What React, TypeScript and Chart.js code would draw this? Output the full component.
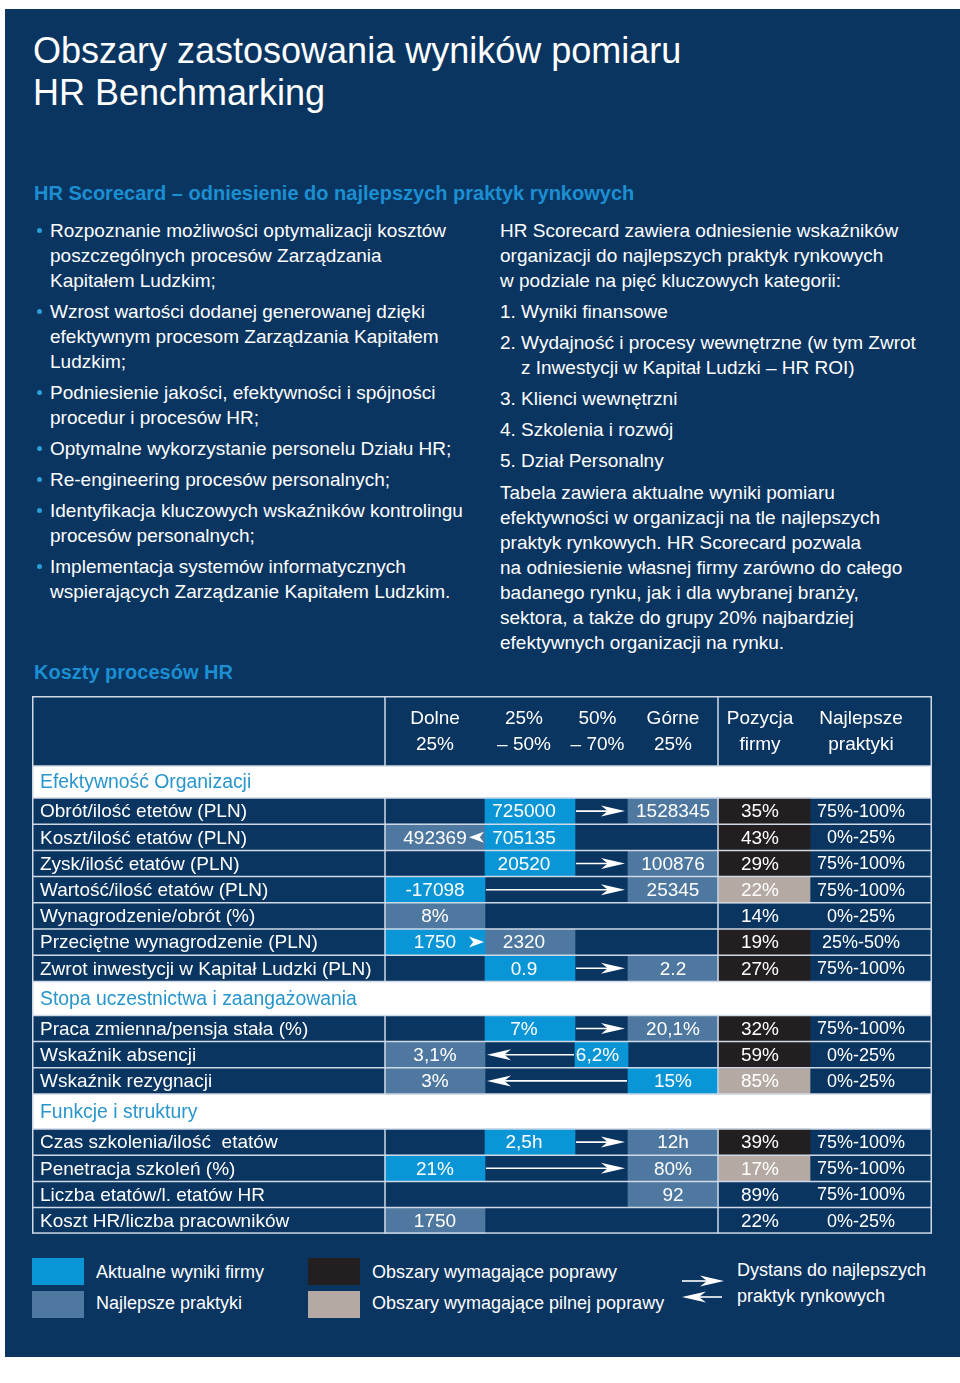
import React, { useEffect, useRef } from 'react';
import { Chart, registerables } from 'chart.js';

Chart.register(...registerables);

// ---------------- DATA ----------------
const COLUMN_HEADERS: string[][] = [
  ['Dolne', '25%'],
  ['25%', '– 50%'],
  ['50%', '– 70%'],
  ['Górne', '25%'],
  ['Pozycja', 'firmy'],
  ['Najlepsze', 'praktyki'],
];

const SECTION_TITLES = [
  'Efektywność Organizacji',
  'Stopa uczestnictwa i zaangażowania',
  'Funkcje i struktury',
];

const ROW_LABELS = [
  'Obrót/ilość etetów (PLN)',
  'Koszt/ilość etatów (PLN)',
  'Zysk/ilość etatów (PLN)',
  'Wartość/ilość etatów (PLN)',
  'Wynagrodzenie/obrót (%)',
  'Przeciętne wynagrodzenie (PLN)',
  'Zwrot inwestycji w Kapitał Ludzki (PLN)',
  'Praca zmienna/pensja stała (%)',
  'Wskaźnik absencji',
  'Wskaźnik rezygnacji',
  'Czas szkolenia/ilość  etatów',
  'Penetracja szkoleń (%)',
  'Liczba etatów/l. etatów HR',
  'Koszt HR/liczba pracowników',
];

const ROW_SECTION = [0, 0, 0, 0, 0, 0, 0, 1, 1, 1, 2, 2, 2, 2];

// column index: 1 = Dolne 25%, 2 = 25%-50%, 3 = 50%-70%, 4 = Górne 25%
const CURRENT_COL: (number | null)[] = [2, 2, 2, 1, null, 1, 2, 2, 3, 4, 2, 1, null, null];
const CURRENT_VALUE: (string | null)[] = ['725000', '705135', '20520', '-17098', null, '1750', '0.9', '7%', '6,2%', '15%', '2,5h', '21%', null, null];

const BEST_COL: number[] = [4, 1, 4, 4, 1, 2, 4, 4, 1, 1, 4, 4, 4, 1];
const BEST_VALUE: string[] = ['1528345', '492369', '100876', '25345', '8%', '2320', '2.2', '20,1%', '3,1%', '3%', '12h', '80%', '92', '1750'];

const POSITION: string[] = ['35%', '43%', '29%', '22%', '14%', '19%', '27%', '32%', '59%', '85%', '39%', '17%', '89%', '22%'];
// 'improve' = Obszary wymagające poprawy, 'urgent' = Obszary wymagające pilnej poprawy
const POSITION_STATUS: string[] = ['improve', 'improve', 'improve', 'urgent', 'ok', 'improve', 'improve', 'improve', 'improve', 'urgent', 'improve', 'urgent', 'ok', 'ok'];

const BEST_PRACTICE: string[] = ['75%-100%', '0%-25%', '75%-100%', '75%-100%', '0%-25%', '25%-50%', '75%-100%', '75%-100%', '0%-25%', '0%-25%', '75%-100%', '75%-100%', '75%-100%', '0%-25%'];

const LEGEND_LABELS = ['Aktualne wyniki firmy', 'Najlepsze praktyki', 'Obszary wymagające poprawy', 'Obszary wymagające pilnej poprawy'];

// ---------------- STYLE / LAYOUT ----------------
const FONT = '"Liberation Sans", Arial, Helvetica, sans-serif';
const NAVY = '#0a3561';
const C_CURRENT = '#0a96d6';
const C_BEST = '#4e78a0';
const C_IMPROVE = '#231f20';
const C_URGENT = '#b5a9a3';
const C_SECTION = '#2896cd';
const C_SUB = '#1b8fd2';
const C_LINE = '#cfd9e6';

const TABLE_W = 900;
const COL_EDGES = [0, 353, 453, 543, 596, 686, 778, 900];
const COL_TEXT_SHIFT = [0, 0, -6, -4, 0, -4, -10];
const HEADER_H = 70;
const SECTION_H = [32, 34, 35];
const ROW_H = 26.2;

type Item = { kind: 'header' | 'section' | 'data'; top: number; h: number; index: number };
const LAYOUT: Item[] = [];
let acc = 0;
LAYOUT.push({ kind: 'header', top: 0, h: HEADER_H, index: 0 });
acc = HEADER_H;
ROW_LABELS.forEach((_, i) => {
  const s = ROW_SECTION[i];
  if (i === 0 || ROW_SECTION[i - 1] !== s) {
    LAYOUT.push({ kind: 'section', top: acc, h: SECTION_H[s], index: s });
    acc += SECTION_H[s];
  }
  LAYOUT.push({ kind: 'data', top: acc, h: ROW_H, index: i });
  acc += ROW_H;
});
const TOTAL_H = acc;
const CANVAS_H = Math.ceil(TOTAL_H);
const rowItem = (i: number) => LAYOUT.find((it) => it.kind === 'data' && it.index === i)!;
const rowCenter = (i: number) => {
  const it = rowItem(i);
  return it.top + it.h / 2;
};

function cellBars(cols: (number | null)[], filter?: (i: number) => boolean) {
  const out: { x: number[]; y: number }[] = [];
  cols.forEach((c, i) => {
    if (c === null || c === undefined) return;
    if (filter && !filter(i)) return;
    out.push({ x: [COL_EDGES[c], COL_EDGES[c + 1]], y: rowCenter(i) });
  });
  return out;
}

function drawArrowHead(ctx: CanvasRenderingContext2D, tipX: number, y: number, dir: number, len: number, half: number) {
  ctx.beginPath();
  ctx.moveTo(tipX, y);
  ctx.lineTo(tipX - dir * len, y - half);
  ctx.lineTo(tipX - dir * len * 0.72, y);
  ctx.lineTo(tipX - dir * len, y + half);
  ctx.closePath();
  ctx.fill();
}

const tablePlugin = {
  id: 'tableDecor',
  beforeDatasetsDraw(chart: any) {
    const { ctx, scales } = chart;
    const x = scales.x;
    const y = scales.y;
    ctx.save();
    ctx.fillStyle = '#ffffff';
    LAYOUT.filter((it) => it.kind === 'section').forEach((it) => {
      const y0 = y.getPixelForValue(it.top);
      const y1 = y.getPixelForValue(it.top + it.h);
      ctx.fillRect(x.getPixelForValue(0), y0, x.getPixelForValue(TABLE_W) - x.getPixelForValue(0), y1 - y0);
    });
    ctx.restore();
  },
  afterDatasetsDraw(chart: any) {
    const { ctx, scales } = chart;
    const x = scales.x;
    const y = scales.y;
    const X = (v: number) => x.getPixelForValue(v);
    const Y = (v: number) => y.getPixelForValue(v);
    ctx.save();

    // grid lines
    ctx.strokeStyle = C_LINE;
    ctx.lineWidth = 1.5;
    for (let k = 1; k < LAYOUT.length; k++) {
      const yy = Y(LAYOUT[k].top);
      ctx.beginPath();
      ctx.moveTo(X(0), yy);
      ctx.lineTo(X(TABLE_W), yy);
      ctx.stroke();
    }
    LAYOUT.forEach((it) => {
      if (it.kind === 'section') return;
      [COL_EDGES[1], COL_EDGES[5]].forEach((e) => {
        ctx.beginPath();
        ctx.moveTo(X(e), Y(it.top));
        ctx.lineTo(X(e), Y(it.top + it.h));
        ctx.stroke();
      });
    });
    ctx.strokeRect(X(0) + 0.75, Y(0) + 0.75, X(TABLE_W) - X(0) - 1.5, Y(TOTAL_H) - Y(0) - 1.5);

    // arrows
    ctx.fillStyle = '#ffffff';
    ctx.strokeStyle = '#ffffff';
    ctx.lineWidth = 1.6;
    ROW_LABELS.forEach((_, i) => {
      const c = CURRENT_COL[i];
      const b = BEST_COL[i];
      if (c === null || c === b) return;
      const yy = Y(rowCenter(i));
      const dir = b > c ? 1 : -1;
      if (Math.abs(b - c) === 1) {
        const boundary = COL_EDGES[Math.max(b, c)];
        const tip = dir > 0 ? boundary - 1 : boundary - 16;
        drawArrowHead(ctx, X(tip), yy, dir, 15, 5.5);
      } else {
        const start = dir > 0 ? COL_EDGES[c + 1] + 1 : COL_EDGES[c] - 1;
        const tip = dir > 0 ? COL_EDGES[b] - 3 : COL_EDGES[b + 1] + 2;
        ctx.beginPath();
        ctx.moveTo(X(start), yy);
        ctx.lineTo(X(tip) - dir * 12, yy);
        ctx.stroke();
        drawArrowHead(ctx, X(tip), yy, dir, 24, 5.5);
      }
    });

    // texts
    ctx.textBaseline = 'middle';
    ctx.font = `19px ${FONT}`;
    ctx.fillStyle = '#ffffff';
    const center = (col: number) => X((COL_EDGES[col] + COL_EDGES[col + 1]) / 2 + COL_TEXT_SHIFT[col]);
    // header
    const hc = HEADER_H / 2;
    COLUMN_HEADERS.forEach((lines, k) => {
      const cx = center(k + 1);
      ctx.textAlign = 'center';
      ctx.fillText(lines[0], cx, Y(hc - 13) + 1);
      ctx.fillText(lines[1], cx, Y(hc + 13) + 1);
    });
    // sections
    ctx.font = `19.4px ${FONT}`;
    LAYOUT.filter((it) => it.kind === 'section').forEach((it) => {
      ctx.fillStyle = C_SECTION;
      ctx.textAlign = 'left';
      ctx.fillText(SECTION_TITLES[it.index], X(8), Y(it.top + it.h / 2) + 1);
    });
    ctx.fillStyle = '#ffffff';
    ROW_LABELS.forEach((label, i) => {
      const yy = Y(rowCenter(i)) + 1;
      ctx.font = `19px ${FONT}`;
      ctx.textAlign = 'left';
      ctx.fillText(label, X(8), yy);
      ctx.textAlign = 'center';
      const c = CURRENT_COL[i];
      if (c !== null && CURRENT_VALUE[i]) ctx.fillText(CURRENT_VALUE[i] as string, center(c), yy);
      ctx.fillText(BEST_VALUE[i], center(BEST_COL[i]), yy);
      ctx.fillText(POSITION[i], center(5), yy);
      ctx.font = `18px ${FONT}`;
      ctx.fillText(BEST_PRACTICE[i], center(6), yy);
    });
    ctx.restore();
  },
};

function TableChart() {
  const ref = useRef<HTMLCanvasElement | null>(null);
  useEffect(() => {
    if (!ref.current) return;
    const positionCols = POSITION.map(() => 5);
    const chart = new Chart(ref.current, {
      type: 'bar',
      data: {
        datasets: [
          { label: LEGEND_LABELS[0], data: cellBars(CURRENT_COL), backgroundColor: C_CURRENT },
          { label: LEGEND_LABELS[1], data: cellBars(BEST_COL), backgroundColor: C_BEST },
          { label: LEGEND_LABELS[2], data: cellBars(positionCols, (i) => POSITION_STATUS[i] === 'improve'), backgroundColor: C_IMPROVE },
          { label: LEGEND_LABELS[3], data: cellBars(positionCols, (i) => POSITION_STATUS[i] === 'urgent'), backgroundColor: C_URGENT },
        ] as any,
      },
      options: {
        indexAxis: 'y',
        responsive: false,
        maintainAspectRatio: false,
        animation: false,
        layout: { padding: 0 },
        datasets: { bar: { grouped: false, barThickness: ROW_H, borderWidth: 0, borderSkipped: false } } as any,
        scales: {
          x: { type: 'linear', min: 0, max: TABLE_W, display: false, offset: false, grid: { offset: false } },
          y: { type: 'linear', min: 0, max: CANVAS_H, reverse: true, display: false, offset: false, grid: { offset: false } },
        },
        plugins: { legend: { display: false }, tooltip: { enabled: false } },
      } as any,
      plugins: [tablePlugin],
    });
    return () => chart.destroy();
  }, []);
  return (
    <canvas
      ref={ref}
      width={TABLE_W}
      height={CANVAS_H}
      style={{ position: 'absolute', left: 32, top: 696, width: TABLE_W, height: CANVAS_H }}
    />
  );
}

const LEFT_BULLETS: string[][] = [
  ['Rozpoznanie możliwości optymalizacji kosztów', 'poszczególnych procesów Zarządzania', 'Kapitałem Ludzkim;'],
  ['Wzrost wartości dodanej generowanej dzięki', 'efektywnym procesom Zarządzania Kapitałem', 'Ludzkim;'],
  ['Podniesienie jakości, efektywności i spójności', 'procedur i procesów HR;'],
  ['Optymalne wykorzystanie personelu Działu HR;'],
  ['Re-engineering procesów personalnych;'],
  ['Identyfikacja kluczowych wskaźników kontrolingu', 'procesów personalnych;'],
  ['Implementacja systemów informatycznych', 'wspierających Zarządzanie Kapitałem Ludzkim.'],
];

const RIGHT_PARAS: { lines: string[]; indent?: boolean }[] = [
  { lines: ['HR Scorecard zawiera odniesienie wskaźników', 'organizacji do najlepszych praktyk rynkowych', 'w podziale na pięć kluczowych kategorii:'] },
  { lines: ['1. Wyniki finansowe'] },
  { lines: ['2. Wydajność i procesy wewnętrzne (w tym Zwrot', 'z Inwestycji w Kapitał Ludzki – HR ROI)'], indent: true },
  { lines: ['3. Klienci wewnętrzni'] },
  { lines: ['4. Szkolenia i rozwój'] },
  { lines: ['5. Dział Personalny'] },
  {
    lines: [
      'Tabela zawiera aktualne wyniki pomiaru',
      'efektywności w organizacji na tle najlepszych',
      'praktyk rynkowych. HR Scorecard pozwala',
      'na odniesienie własnej firmy zarówno do całego',
      'badanego rynku, jak i dla wybranej branży,',
      'sektora, a także do grupy 20% najbardziej',
      'efektywnych organizacji na rynku.',
    ],
  },
];

const bodyText: React.CSSProperties = { fontSize: 19, lineHeight: '25px', color: '#ffffff', whiteSpace: 'nowrap' };

export default function App() {
  return (
    <div style={{ position: 'absolute', left: 0, top: 0, width: 960, height: 1383, background: '#ffffff', fontFamily: FONT, overflow: 'hidden' }}>
      <div style={{ position: 'absolute', left: 5, top: 9, width: 955, height: 1348, background: NAVY }} />
      <div style={{ position: 'absolute', left: 33, top: 30, fontSize: 36, lineHeight: '42px', color: '#ffffff', whiteSpace: 'nowrap' }}>
        Obszary zastosowania wyników pomiaru
        <br />
        HR Benchmarking
      </div>
      <div style={{ position: 'absolute', left: 34, top: 181, fontSize: 20, lineHeight: '24px', fontWeight: 'bold', color: C_SUB, whiteSpace: 'nowrap' }}>
        HR Scorecard – odniesienie do najlepszych praktyk rynkowych
      </div>
      <div style={{ position: 'absolute', left: 50, top: 218 }}>
        {LEFT_BULLETS.map((lines, k) => (
          <div key={k} style={{ ...bodyText, position: 'relative', marginTop: k === 0 ? 0 : 6 }}>
            <span style={{ position: 'absolute', left: -13, top: 10, width: 5, height: 5, borderRadius: 3, background: '#2a9fd8' }} />
            {lines.map((l, j) => (
              <div key={j}>{l}</div>
            ))}
          </div>
        ))}
      </div>
      <div style={{ position: 'absolute', left: 500, top: 218 }}>
        {RIGHT_PARAS.map((p, k) => (
          <div key={k} style={{ ...bodyText, marginTop: k === 0 ? 0 : k === 6 ? 7 : 6 }}>
            {p.lines.map((l, j) => (
              <div key={j} style={{ paddingLeft: p.indent && j > 0 ? 21 : 0 }}>{l}</div>
            ))}
          </div>
        ))}
      </div>
      <div style={{ position: 'absolute', left: 34, top: 660, fontSize: 20, lineHeight: '24px', fontWeight: 'bold', color: C_SUB, whiteSpace: 'nowrap' }}>
        Koszty procesów HR
      </div>

      <TableChart />

      {/* legend */}
      <div style={{ position: 'absolute', left: 32, top: 1258, width: 52, height: 27, background: C_CURRENT }} />
      <div style={{ position: 'absolute', left: 32, top: 1291, width: 52, height: 27, background: C_BEST }} />
      <div style={{ position: 'absolute', left: 308, top: 1258, width: 52, height: 27, background: C_IMPROVE }} />
      <div style={{ position: 'absolute', left: 308, top: 1291, width: 52, height: 27, background: C_URGENT }} />
      <div style={{ ...bodyText, fontSize: 18, position: 'absolute', left: 96, top: 1260 }}>{LEGEND_LABELS[0]}</div>
      <div style={{ ...bodyText, fontSize: 18, position: 'absolute', left: 96, top: 1291 }}>{LEGEND_LABELS[1]}</div>
      <div style={{ ...bodyText, fontSize: 18, position: 'absolute', left: 372, top: 1260 }}>{LEGEND_LABELS[2]}</div>
      <div style={{ ...bodyText, fontSize: 18, position: 'absolute', left: 372, top: 1291 }}>{LEGEND_LABELS[3]}</div>
      <svg style={{ position: 'absolute', left: 678, top: 1270 }} width={50} height={36}>
        <line x1={4} y1={11} x2={34} y2={11} stroke="#fff" strokeWidth={1.6} />
        <path d="M46 11 L22 5.5 L29 11 L22 16.5 Z" fill="#fff" />
        <line x1={16} y1={27} x2={44} y2={27} stroke="#fff" strokeWidth={1.6} />
        <path d="M4 27 L28 21.5 L21 27 L28 32.5 Z" fill="#fff" />
      </svg>
      <div style={{ ...bodyText, fontSize: 18, position: 'absolute', left: 737, top: 1258 }}>Dystans do najlepszych</div>
      <div style={{ ...bodyText, fontSize: 18, position: 'absolute', left: 737, top: 1284 }}>praktyk rynkowych</div>
    </div>
  );
}
